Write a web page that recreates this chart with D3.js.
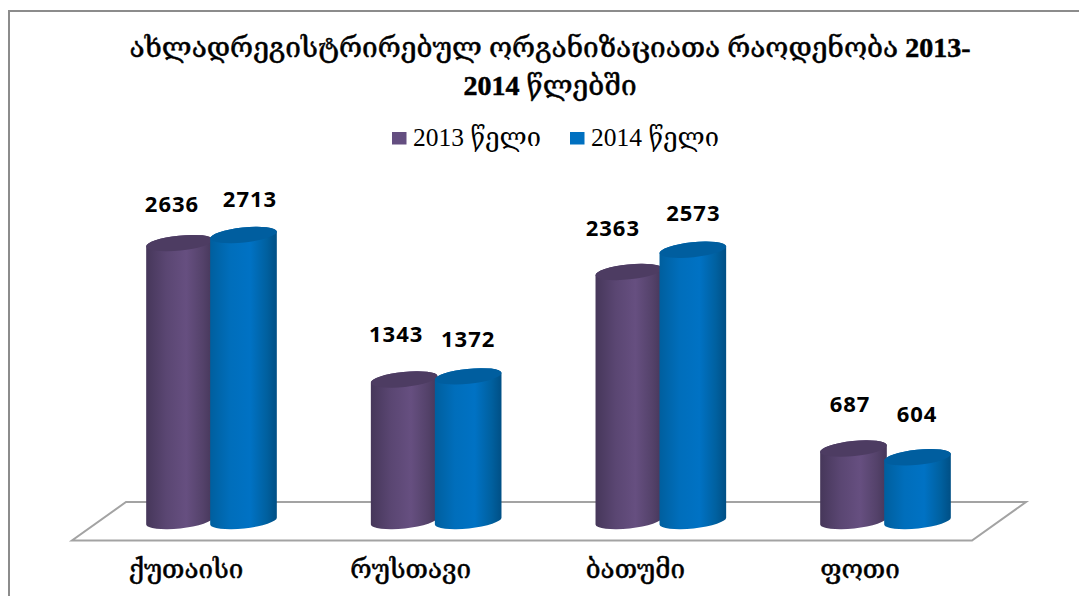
<!DOCTYPE html>
<html>
<head>
<meta charset="utf-8">
<script src="https://cdn.jsdelivr.net/npm/d3@7"></script>
<style>
  html, body { margin: 0; padding: 0; background: #fff; overflow: hidden; }
  svg { display: block; }
  .geo { font-family: "Liberation Serif", "DejaVu Serif", serif; fill: #000; }
  .num { font-family: "Open Sans", "Noto Sans", sans-serif; font-weight: 700; fill: #000; }
</style>
</head>
<body>
<div id="chart"></div>
<script>
    const titleLines = ["ახლადრეგისტრირებულ ორგანიზაციათა რაოდენობა 2013-", "2014 წლებში"];
    const categories = ["ქუთაისი", "რუსთავი", "ბათუმი", "ფოთი"];
    const seriesNames = ["2013 წელი", "2014 წელი"];
    const values2013 = [2636, 1343, 2363, 687];
    const values2014 = [2713, 1372, 2573, 604];
    const seriesValues = [values2013, values2014];

    const width = 1079, height = 596;

    const RX = 33.5, RY = 7.5, TILT = -6;
    const sinT = Math.sin(-TILT * Math.PI / 180) * RX;
    const cosT = Math.cos(-TILT * Math.PI / 180) * RX;

    var svg = d3.select("#chart").append("svg")
        .attr("width", width)
        .attr("height", height);

    var x = d3.scalePoint().domain(categories).range([211.5, 885.5]);
    var xSeries = d3.scalePoint().domain([0, 1]).range([-32, 32]);
    var y = d3.scaleLinear().domain([0, 2713]).range([521, 235]);

    // gradients run across the cylinder to fake the round shading
    var defs = svg.append("defs");
    function addGradient(id, stops) {
        var g = defs.append("linearGradient").attr("id", id)
            .attr("x1", 0).attr("x2", 1).attr("y1", 0).attr("y2", 0);
        stops.forEach(s => g.append("stop").attr("offset", s[0]).attr("stop-color", s[1]));
    }
    addGradient("side0", [[0, "#46375a"], [0.3, "#5a4672"], [0.6, "#664f80"], [0.85, "#54426a"], [1, "#46375a"]]);
    addGradient("side1", [[0, "#005f9e"], [0.3, "#006ebb"], [0.6, "#0072c4"], [0.85, "#00609f"], [1, "#004f85"]]);
    const topColors = ["#4d3c62", "#005e9f"];
    const swatchColors = ["#644e80", "#0070c0"];

    // frame, only top and left are visible in the picture
    svg.append("path")
        .attr("d", d3.line()([[9, height], [9, 11], [width, 11]]))
        .attr("fill", "none")
        .attr("stroke", "#8c8c8c")
        .attr("stroke-width", 2);

    // floor
    svg.append("path")
        .attr("d", d3.line()([[126, 502], [1026, 502], [972, 540.5], [72, 540.5]]) + "Z")
        .attr("fill", "#fff")
        .attr("stroke", "#a3a3a3")
        .attr("stroke-width", 2);

    // title, the digits are bold in the original
    var title = svg.append("g").selectAll("text")
        .data(titleLines)
        .enter().append("text")
        .attr("class", "geo")
        .attr("x", 550)
        .attr("y", (d, i) => 57 + i * 38)
        .attr("text-anchor", "middle")
        .attr("font-size", 28)
        .attr("stroke", "#000")
        .attr("stroke-width", 0.5);
    title.selectAll("tspan")
        .data(d => d.split(/(\d+-?)/).filter(s => s))
        .enter().append("tspan")
        .attr("font-weight", d => /\d/.test(d) ? 700 : 400)
        .text(d => d);

    // legend
    const legendSwatchX = [392, 570];
    var legend = svg.append("g").selectAll("g")
        .data(seriesNames)
        .enter().append("g")
        .attr("transform", (d, i) => `translate(${legendSwatchX[i]},132)`);
    legend.append("rect")
        .attr("width", 14.5).attr("height", 12.5)
        .attr("fill", (d, i) => swatchColors[i]);
    legend.append("text")
        .attr("class", "geo")
        .attr("x", 21)
        .attr("y", 14)
        .attr("font-size", 25.5)
        .text(d => d);

    // cylinders
    var bars = [];
    categories.forEach((c, ci) => {
        seriesValues.forEach((vals, si) => {
            bars.push({ category: c, series: si, value: vals[ci], index: ci });
        });
    });

    var bar = svg.append("g").selectAll("g")
        .data(bars)
        .enter().append("g")
        .attr("transform", d => `translate(${x(d.category) + xSeries(d.series)},0)`);

    bar.append("path")
        .attr("fill", d => `url(#side${d.series})`)
        .attr("d", d => {
            var t = y(d.value), b = y(0);
            return `M${-cosT},${t + sinT}A${RX},${RY} ${TILT} 0 1 ${cosT},${t - sinT}` +
                `L${cosT},${b - sinT}A${RX},${RY} ${TILT} 0 1 ${-cosT},${b + sinT}Z`;
        });

    bar.append("ellipse")
        .attr("rx", RX)
        .attr("ry", RY)
        .attr("fill", d => topColors[d.series])
        .attr("transform", d => `translate(0,${y(d.value)}) rotate(${TILT})`);

    // labels were hand placed in the original, so each has its own nudge
    const labelDx = [-7.5, 6.5, -8, 0, -16, 0.5, -3.5, -0.5];
    const labelDy = [-31, -28, -37, -29, -36, -29, -37, -35];
    svg.append("g").selectAll("text")
        .data(bars)
        .enter().append("text")
        .attr("class", "num")
        .attr("x", d => x(d.category) + xSeries(d.series) + labelDx[d.index * 2 + d.series])
        .attr("y", d => y(d.value) + labelDy[d.index * 2 + d.series])
        .attr("text-anchor", "middle")
        .attr("font-size", 22)
        .attr("letter-spacing", 1)
        .text(d => d.value);

    // category axis
    var axis = svg.append("g")
        .attr("transform", "translate(-26,556)")
        .call(d3.axisBottom(x).tickSize(0).tickPadding(0));
    axis.select(".domain").remove();
    axis.selectAll("text")
        .attr("class", "geo")
        .attr("dy", 0)
        .attr("y", 22)
        .attr("font-size", 26)
        .attr("stroke", "#000")
        .attr("stroke-width", 0.5);
</script>
</body>
</html>
